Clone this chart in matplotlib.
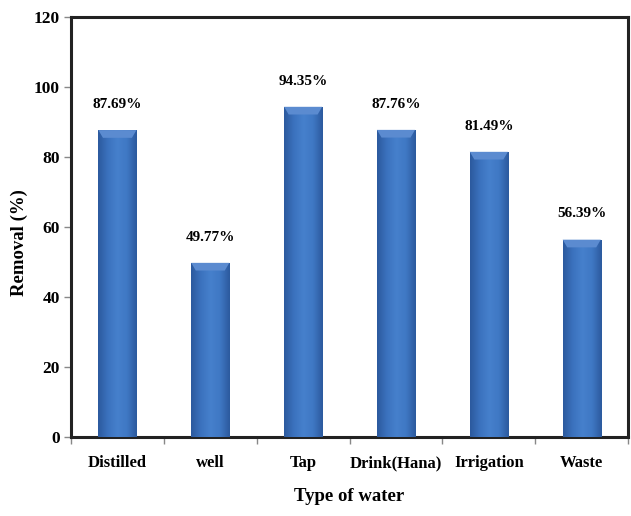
import numpy as np
import matplotlib.pyplot as plt
from matplotlib.colors import LinearSegmentedColormap

categories = ["Distilled", "well", "Tap", "Drink(Hana)", "Irrigation", "Waste"]
removal = [87.69, 49.77, 94.35, 87.76, 81.49, 56.39]

plt.rcParams['font.family'] = ['Liberation Serif', 'DejaVu Serif']
plt.rcParams['font.weight'] = 'bold'

fig = plt.figure(figsize=(6.31, 5.16), dpi=100)
ax = fig.add_axes([0.1125, 0.153, 0.883, 0.814])

x = np.arange(len(categories))
bars = ax.bar(x, removal, width=0.41, color='#3d74c0', zorder=2)

# horizontal shading across each bar to give it a rounded look
shade = LinearSegmentedColormap.from_list(
    'shade', ['#2c5a9e', '#3b72be', '#4680cc', '#3f78c4', '#2c5a9e'])
grad = np.linspace(0, 1, 64).reshape(1, -1)
for b, v in zip(bars, removal):
    x0 = b.get_x()
    w = b.get_width()
    im = ax.imshow(grad, cmap=shade, aspect='auto', zorder=3,
                   extent=[x0, x0 + w, 0, v], interpolation='bicubic')
    im.set_clip_path(b)
    # lighter bevel along the top edge
    ax.fill([x0, x0 + w, x0 + w * 0.88, x0 + w * 0.12],
            [v, v, v - 2.2, v - 2.2], color='#5b8bd0', zorder=4, lw=0)
    ax.text(b.get_x() + w / 2, v + 5.5, f"{v:.2f}%", ha='center', va='bottom',
            fontsize=11, fontweight='bold', zorder=5)

ax.set_xlim(-0.5, len(categories) - 0.5)
ax.set_ylim(0, 120)
ax.set_yticks(range(0, 121, 20))
ax.set_xticks(x)
ax.set_xticklabels(categories, fontsize=12, fontweight='bold')
ax.set_xticks(np.arange(-0.5, len(categories), 1), minor=True)
ax.tick_params(axis='x', which='major', length=0, pad=13)
ax.tick_params(axis='x', which='minor', length=5, color='#888888', width=1)
ax.tick_params(axis='y', length=5, color='#888888', width=1, labelsize=12.5, pad=3)
for lab in ax.get_yticklabels():
    lab.set_fontweight('bold')

for s in ax.spines.values():
    s.set_linewidth(2.2)
    s.set_color('#222222')

ax.set_ylabel("Removal (%)", fontsize=13.5, fontweight='bold')
ax.yaxis.set_label_coords(-0.078, 0.464)
ax.set_xlabel("Type of water", fontsize=13.5, fontweight='bold', labelpad=12)

fig.savefig("out.png", dpi=100, facecolor='white')
